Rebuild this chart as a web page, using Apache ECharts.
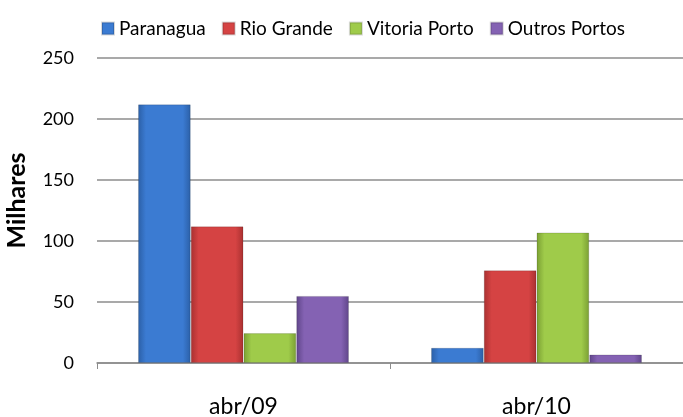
<!DOCTYPE html>
<html>
<head>
<meta charset="utf-8">
<script src="https://cdn.jsdelivr.net/npm/echarts@6/dist/echarts.min.js"></script>
<style>
html,body{margin:0;padding:0;background:#fff;}
#chart{width:683px;height:417px;}
</style>
</head>
<body>
<div id="chart"></div>
<script>
const categories = ['abr/09', 'abr/10'];
const seriesNames = ['Paranagua', 'Rio Grande', 'Vitoria Porto', 'Outros Portos'];
const paranagua = [212, 12.5];
const rioGrande = [112, 76];
const vitoriaPorto = [24.5, 107];
const outrosPortos = [55, 7];

const chart = echarts.init(document.getElementById('chart'));
const font = 'Lato, "Open Sans", sans-serif';

// dark edge / light middle, gives the bevelled look
function shade(edge, mid) {
    return new echarts.graphic.LinearGradient(0, 0, 1, 0, [
        {offset: 0, color: edge},
        {offset: 0.15, color: mid},
        {offset: 0.85, color: mid},
        {offset: 1, color: edge}
    ]);
}
const fills = [
    shade('#2b5fa6', '#3b7bd2'),
    shade('#a83030', '#d54343'),
    shade('#7a9f33', '#9fcb4a'),
    shade('#5f4589', '#8462b3')
];
const legendColors = ['#3b7bd2', '#d54343', '#9fcb4a', '#8462b3'];
const values = [paranagua, rioGrande, vitoriaPorto, outrosPortos];

const option = {
    animation: false,
    legend: {
        top: 14,
        left: 96,
        itemWidth: 12,
        itemHeight: 12,
        itemGap: 16,
        icon: 'rect',
        textStyle: {fontFamily: font, fontSize: 19, color: '#000'},
        data: seriesNames.map((n, i) => ({name: n, itemStyle: {color: legendColors[i]}}))
    },
    grid: {left: 97, right: 0, top: 58, bottom: 54, outerBoundsMode: 'none'},
    xAxis: {
        type: 'category',
        data: categories,
        axisLine: {lineStyle: {color: '#8c8c8c', width: 1.5}},
        axisTick: {show: true, length: 6, lineStyle: {color: '#8c8c8c'}},
        axisLabel: {fontFamily: font, fontSize: 23, color: '#000', margin: 32}
    },
    yAxis: {
        type: 'value',
        min: 0,
        max: 250,
        interval: 50,
        name: 'Milhares',
        nameLocation: 'middle',
        nameGap: 68,
        nameTextStyle: {fontFamily: font, fontSize: 25, fontWeight: 'bold', color: '#000', padding: [0, 0, 0, 20]},
        axisLine: {show: false},
        axisTick: {show: false},
        splitLine: {lineStyle: {color: '#8c8c8c', width: 1.5}},
        axisLabel: {fontFamily: font, fontSize: 18, color: '#000', margin: 23}
    },
    series: seriesNames.map((n, i) => ({
        name: n,
        type: 'bar',
        data: values[i],
        barGap: '0%',
        barCategoryGap: '28%',
        itemStyle: {color: fills[i], borderColor: 'rgba(0,0,0,0.15)', borderWidth: 1}
    }))
};
chart.setOption(option);
</script>
</body>
</html>
